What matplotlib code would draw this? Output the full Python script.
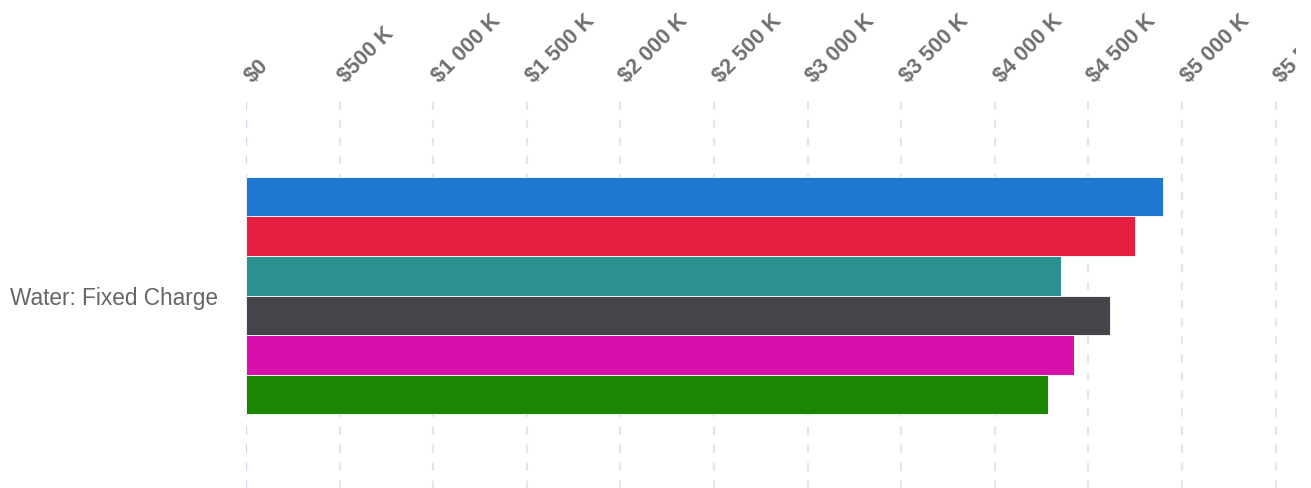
import matplotlib.pyplot as plt
from matplotlib.transforms import Bbox, ScaledTranslation

plt.rcParams["font.family"] = ["Liberation Sans", "DejaVu Sans"]
plt.rcParams["lines.scale_dashes"] = False

category = "Water: Fixed Charge"
# values in thousands of dollars, top bar first
series_values = [4900, 4750, 4355, 4615, 4425, 4285]
series_colors = ["#1e78cf", "#e51e42", "#2b908f", "#45444a", "#d70fab", "#1a8602"]
tick_values = list(range(0, 6001, 500))


def money_label(v):
    if v == 0:
        return "$0"
    return "${:,} K".format(v).replace(",", " ")


W, H = 1311, 489
fig = plt.figure(figsize=(W / 100, H / 100), dpi=100)
# plot area runs past the right and bottom edges of the image
left, top, right, bottom = 246, 97, 246 + 6 * 187.2, 496
ax = fig.add_axes([left / W, (H - bottom) / H, (right - left) / W, (bottom - top) / H])

n = len(series_values)
bar_h = 0.0993
for i, (val, col) in enumerate(zip(series_values, series_colors)):
    y = (i - (n - 1) / 2) * bar_h
    ax.barh(y, val, height=bar_h, color=col, edgecolor="white", linewidth=0.6, zorder=3)

ax.set_xlim(0, 6000)
ax.set_ylim(0.5, -0.5)

# dashed vertical grid
for v in tick_values:
    ax.axvline(v, color="#ccd6eb" if v == 0 else "#e6e6e6", lw=1.6,
               linestyle=(0, (6, 7)), zorder=1)

ax.xaxis.tick_top()
ax.set_xticks(tick_values)
ax.set_xticklabels([money_label(v) for v in tick_values], rotation=45,
                   ha="left", va="bottom", rotation_mode="anchor",
                   fontsize=15.5, fontweight="bold", color="#707070")
ax.tick_params(axis="x", length=0, pad=7)
shift = ScaledTranslation(10 / 100, 0, fig.dpi_scale_trans)
# labels are clipped at the chart container's right edge
label_clip = Bbox([[0, 0], [1296, H]])
for lbl in ax.get_xticklabels():
    lbl.set_transform(lbl.get_transform() + shift)
    lbl.set_clip_box(label_clip)
    lbl.set_clip_on(True)

ax.set_yticks([0])
ax.set_yticklabels([category], fontsize=16.3, color="#666666")
ax.tick_params(axis="y", length=0, pad=20)

for s in ax.spines.values():
    s.set_visible(False)

fig.savefig("out.png", dpi=100)
